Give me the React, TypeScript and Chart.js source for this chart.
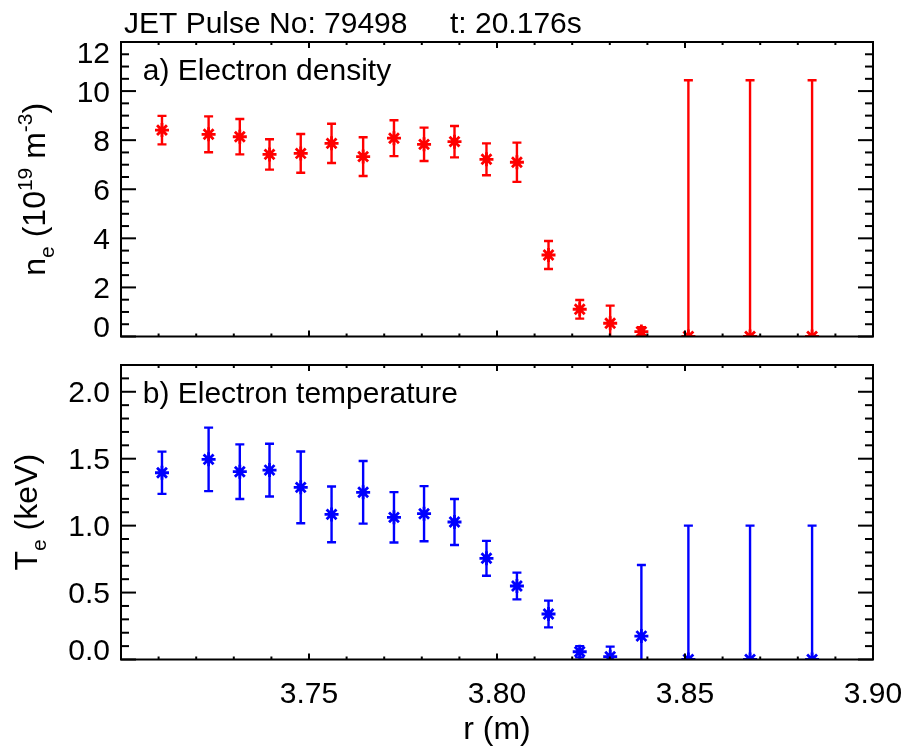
import React, { useEffect, useRef } from 'react';
import { Chart, registerables } from 'chart.js';

Chart.register(...registerables);

const FONT = '"Liberation Sans", Arial, Helvetica, sans-serif';

// radius of each measurement (m)
const radius = [3.7109, 3.7233, 3.7316, 3.7395, 3.7478, 3.7560, 3.7644, 3.7726, 3.7806, 3.7887, 3.7972, 3.8053, 3.8137, 3.8220, 3.8301, 3.8384, 3.8509, 3.8673, 3.8838];

// electron density (1e19 m^-3) and its error
const neValues = [8.41, 8.24, 8.14, 7.42, 7.46, 7.87, 7.33, 8.08, 7.83, 7.94, 7.22, 7.10, 3.32, 1.11, 0.54, 0.20, 0, 0, 0];
const neErrors = [0.58, 0.73, 0.72, 0.62, 0.79, 0.80, 0.79, 0.73, 0.68, 0.64, 0.65, 0.80, 0.57, 0.38, 0.72, 0.18, 10.44, 10.44, 10.44];

// electron temperature (keV) and its error
const teValues = [1.395, 1.495, 1.403, 1.415, 1.286, 1.084, 1.249, 1.062, 1.089, 1.027, 0.756, 0.549, 0.34, 0.058, 0.021, 0.175, 0, 0, 0];
const teErrors = [0.158, 0.237, 0.204, 0.197, 0.268, 0.208, 0.234, 0.188, 0.206, 0.172, 0.13, 0.10, 0.10, 0.042, 0.075, 0.531, 1.0, 1.0, 1.0];

// axes
const xRange = [3.70, 3.90];
const xMajorTicks = [3.70, 3.75, 3.80, 3.85, 3.90];
const xTickLabels = ['', '3.75', '3.80', '3.85', '3.90'];
const xMinorStep = 0.01;

const neRange = [0, 12];
const neMajorTicks = [0, 2, 4, 6, 8, 10, 12];
const neTickLabels = ['0', '2', '4', '6', '8', '10', '12'];
const neMinorStep = 0.5;

const teRange = [0, 2.2];
const teMajorTicks = [0, 0.5, 1.0, 1.5, 2.0];
const teTickLabels = ['0.0', '0.5', '1.0', '1.5', '2.0'];
const teMinorStep = 0.1;

type Seg = { t: string; s: number; dy: number };

function errorData(xs: number[], vs: number[], es: number[]) {
  const out: any[] = [];
  xs.forEach((x, i) => {
    out.push({ x, y: vs[i] - es[i] });
    out.push({ x, y: vs[i] + es[i] });
    out.push({ x, y: null });
  });
  return out;
}

function pointData(xs: number[], vs: number[]) {
  return xs.map((x, i) => ({ x, y: vs[i] }));
}

type PanelCfg = {
  yMajor: number[];
  yLabels: string[];
  yMinorStep: number;
  showXLabels: boolean;
  titleSegs: Seg[];
  titleBaseX: number;
  annotation: string;
  annotationY: number;
  header?: boolean;
};

function makeDecor(cfg: PanelCfg) {
  return {
    id: 'decor',
    afterDatasetsDraw(chart: any) {
      const { ctx, chartArea: a, scales } = chart;
      const xs = scales.x;
      const ys = scales.y;
      ctx.save();
      ctx.strokeStyle = '#000';
      ctx.fillStyle = '#000';
      ctx.lineWidth = 2;
      ctx.lineCap = 'butt';
      const line = (x1: number, y1: number, x2: number, y2: number) => {
        ctx.beginPath();
        ctx.moveTo(x1, y1);
        ctx.lineTo(x2, y2);
        ctx.stroke();
      };
      // frame
      ctx.strokeRect(a.left, a.top, a.right - a.left, a.bottom - a.top);

      // x ticks (top and bottom, pointing inward)
      const xMin = xs.min, xMax = xs.max;
      const nX = Math.round((xMax - xMin) / xMinorStep);
      for (let i = 0; i <= nX; i++) {
        const v = xMin + i * xMinorStep;
        const px = xs.getPixelForValue(v);
        const major = xMajorTicks.some((m) => Math.abs(m - v) < 1e-6);
        const len = major ? 6 : 3;
        line(px, a.bottom, px, a.bottom - len);
        line(px, a.top, px, a.top + len);
      }
      // y ticks (left and right, pointing inward)
      const yMin = ys.min, yMax = ys.max;
      const nY = Math.round((yMax - yMin) / cfg.yMinorStep);
      for (let i = 0; i <= nY; i++) {
        const v = yMin + i * cfg.yMinorStep;
        const py = ys.getPixelForValue(v);
        const major = cfg.yMajor.some((m) => Math.abs(m - v) < 1e-6);
        const len = major ? 15 : 8;
        line(a.left, py, a.left + len, py);
        line(a.right, py, a.right - len, py);
      }

      // y tick labels, kept within the plot box
      ctx.font = `30px ${FONT}`;
      ctx.textAlign = 'right';
      ctx.textBaseline = 'alphabetic';
      cfg.yMajor.forEach((v, i) => {
        const py = ys.getPixelForValue(v);
        let base = py + 10.5;
        base = Math.max(base, a.top + 20.5);
        base = Math.min(base, a.bottom);
        ctx.fillText(cfg.yLabels[i], a.left - 11, base);
      });

      // x tick labels
      if (cfg.showXLabels) {
        ctx.textAlign = 'center';
        xMajorTicks.forEach((v, i) => {
          if (!xTickLabels[i]) return;
          ctx.fillText(xTickLabels[i], xs.getPixelForValue(v), a.bottom + 43.5);
        });
        ctx.font = `32px ${FONT}`;
        ctx.fillText('r (m)', (a.left + a.right) / 2, a.bottom + 79.5);
      }

      // header
      if (cfg.header) {
        ctx.font = `30px ${FONT}`;
        ctx.textAlign = 'left';
        ctx.fillText('JET Pulse No: 79498', 124, 33.3);
        ctx.fillText('t: 20.176s', 450, 33.3);
      }

      // panel annotation
      ctx.font = `30px ${FONT}`;
      ctx.textAlign = 'left';
      ctx.fillText(cfg.annotation, 142.7, cfg.annotationY);

      // rotated y title with sub/superscripts
      let total = 0;
      cfg.titleSegs.forEach((s) => {
        ctx.font = `${s.s}px ${FONT}`;
        total += ctx.measureText(s.t).width;
      });
      const cy = (a.top + a.bottom) / 2;
      ctx.translate(cfg.titleBaseX, cy);
      ctx.rotate(-Math.PI / 2);
      let lx = -total / 2;
      cfg.titleSegs.forEach((s) => {
        ctx.font = `${s.s}px ${FONT}`;
        ctx.fillText(s.t, lx, s.dy);
        lx += ctx.measureText(s.t).width;
      });
      ctx.restore();
    },
  };
}

function makeConfig(
  color: string,
  values: number[],
  errors: number[],
  yRange: number[],
  padding: any,
  decor: any
) {
  return {
    type: 'scatter' as const,
    data: {
      datasets: [
        {
          label: 'error',
          data: errorData(radius, values, errors),
          showLine: true,
          spanGaps: false,
          borderColor: color,
          backgroundColor: color,
          borderWidth: 2.4,
          pointStyle: 'line',
          pointRadius: 4.5,
          pointBorderWidth: 2.4,
          pointBorderColor: color,
          clip: 0,
        },
        {
          label: 'value',
          data: pointData(radius, values),
          showLine: false,
          borderColor: color,
          backgroundColor: color,
          pointStyle: 'star',
          pointRadius: 7,
          pointBorderWidth: 2.8,
          pointBorderColor: color,
          clip: 0,
        },
      ],
    },
    options: {
      animation: false,
      responsive: false,
      devicePixelRatio: 1,
      events: [],
      layout: { padding },
      plugins: { legend: { display: false }, tooltip: { enabled: false } },
      scales: {
        x: { type: 'linear', min: xRange[0], max: xRange[1], display: false },
        y: { type: 'linear', min: yRange[0], max: yRange[1], display: false },
      },
    },
    plugins: [decor],
  };
}

export default function App() {
  const topRef = useRef<HTMLCanvasElement>(null);
  const botRef = useRef<HTMLCanvasElement>(null);

  useEffect(() => {
    const topDecor = makeDecor({
      yMajor: neMajorTicks,
      yLabels: neTickLabels,
      yMinorStep: neMinorStep,
      showXLabels: false,
      titleSegs: [
        { t: 'n', s: 32, dy: 0 },
        { t: 'e', s: 21, dy: 9 },
        { t: ' (10', s: 32, dy: 0 },
        { t: '19', s: 21, dy: -13 },
        { t: ' m', s: 32, dy: 0 },
        { t: '-3', s: 21, dy: -13 },
        { t: ')', s: 32, dy: 0 },
      ],
      titleBaseX: 45,
      annotation: 'a) Electron density',
      annotationY: 80,
      header: true,
    });
    const botDecor = makeDecor({
      yMajor: teMajorTicks,
      yLabels: teTickLabels,
      yMinorStep: teMinorStep,
      showXLabels: true,
      titleSegs: [
        { t: 'T', s: 32, dy: 0 },
        { t: 'e', s: 21, dy: 9 },
        { t: ' (keV)', s: 32, dy: 0 },
      ],
      titleBaseX: 37,
      annotation: 'b) Electron temperature',
      annotationY: 53.3,
    });
    const c1 = new Chart(
      topRef.current as HTMLCanvasElement,
      makeConfig('#ff0000', neValues, neErrors, neRange, { left: 121, right: 35, top: 42, bottom: 13.5 }, topDecor) as any
    );
    const c2 = new Chart(
      botRef.current as HTMLCanvasElement,
      makeConfig('#0000ff', teValues, teErrors, teRange, { left: 121, right: 35, top: 15, bottom: 87.5 }, botDecor) as any
    );
    return () => {
      c1.destroy();
      c2.destroy();
    };
  }, []);

  return (
    <div style={{ position: 'absolute', left: 0, top: 0, width: 908, height: 747, background: '#fff' }}>
      <canvas ref={topRef} width={908} height={350} style={{ position: 'absolute', left: 0, top: 0, display: 'block' }} />
      <canvas ref={botRef} width={908} height={397} style={{ position: 'absolute', left: 0, top: 350, display: 'block' }} />
    </div>
  );
}
